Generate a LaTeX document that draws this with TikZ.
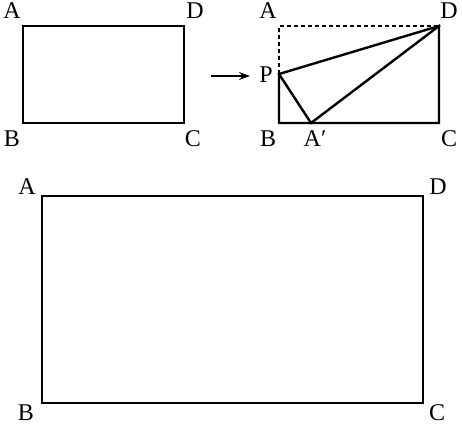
\documentclass[tikz,border=0pt]{standalone}
\usepackage{fontspec}
\setmainfont{Liberation Serif}
\usetikzlibrary{arrows.meta}
\begin{document}
\begin{tikzpicture}[x=1pt,y=-1pt,
  edge/.style={line width=2.4pt, line cap=rect},
  lbl/.style={font=\fontsize{24}{26}\selectfont, inner sep=0pt, anchor=center}]
\useasboundingbox (0,0) rectangle (462,424);
% first rectangle
\coordinate (A1) at (23,26);
\coordinate (B1) at (23,123);
\coordinate (C1) at (184,123);
\coordinate (D1) at (184,26);
\draw[edge] (A1) -- (B1) -- (C1) -- (D1) -- cycle;
\node[lbl] (lA1) at (12,11) {A};
\node[lbl] (lD1) at (195,11) {D};
\node[lbl] (lB1) at (12,139) {B};
\node[lbl] (lC1) at (193,139) {C};
% arrow
\coordinate (ar1) at (211,76);
\coordinate (ar2) at (250,76);
\draw[line width=2pt, -{Stealth[length=11pt,width=8pt]}] (ar1) -- (ar2);
% second rectangle
\coordinate (A2) at (279,26);
\coordinate (B2) at (279,123);
\coordinate (C2) at (439,123);
\coordinate (D2) at (439,26);
\coordinate (P) at (279,74);
\coordinate (Ap) at (311,123);
\draw[line width=2.4pt, dash pattern=on 4pt off 3pt] (P) -- (A2) -- (D2);
\draw[edge, line join=miter] (P) -- (B2) -- (C2) -- (D2) -- cycle;
\draw[edge] (P) -- (Ap) -- (D2);
\node[lbl] (lA2) at (268,11) {A};
\node[lbl] (lD2) at (449,11) {D};
\node[lbl] (lP) at (266,75) {P};
\node[lbl] (lB2) at (268,139) {B};
\node[lbl] (lAp) at (315,139) {A′};
\node[lbl] (lC2) at (449,139) {C};
% big rectangle
\coordinate (A3) at (42,196);
\coordinate (B3) at (42,403);
\coordinate (C3) at (423,403);
\coordinate (D3) at (423,196);
\draw[edge] (A3) -- (B3) -- (C3) -- (D3) -- cycle;
\node[lbl] (lA3) at (27,187) {A};
\node[lbl] (lD3) at (438,187) {D};
\node[lbl] (lB3) at (26,413) {B};
\node[lbl] (lC3) at (437,413) {C};
\end{tikzpicture}
\end{document}
